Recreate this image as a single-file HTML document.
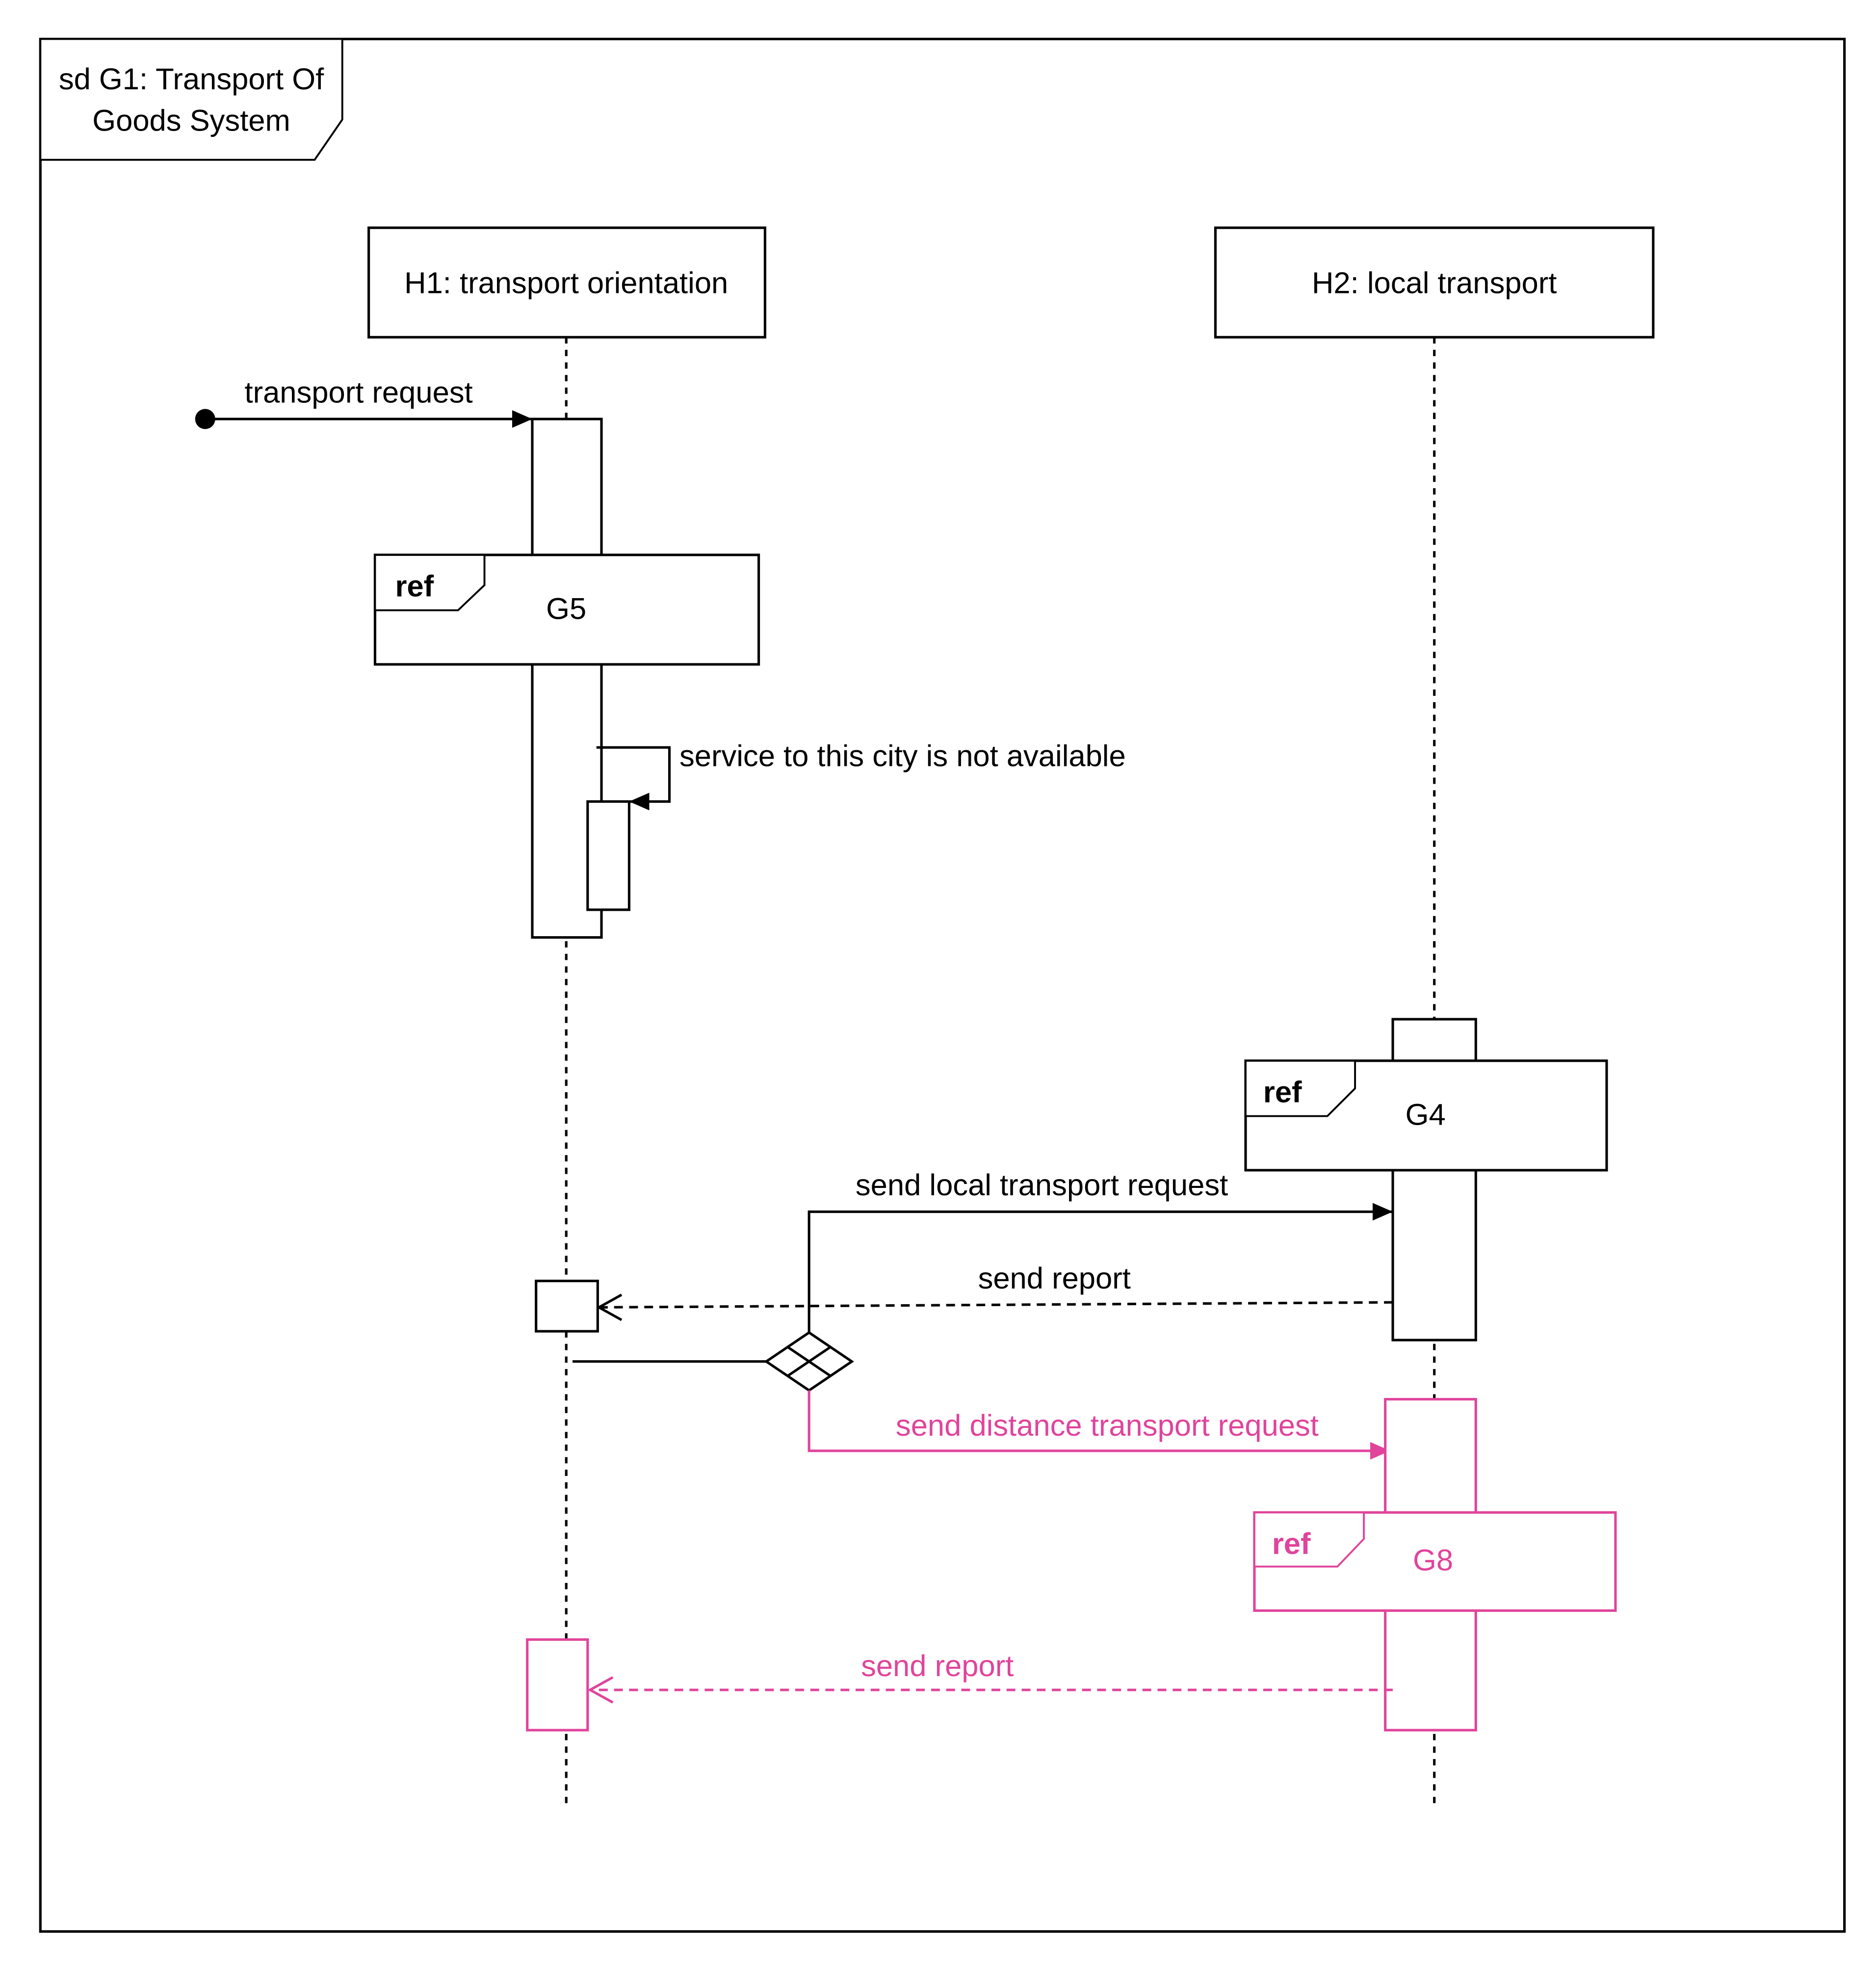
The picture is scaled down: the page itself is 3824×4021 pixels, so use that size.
<!DOCTYPE html>
<html><head><meta charset="utf-8"><style>
html,body{margin:0;padding:0;background:#fff;}
svg{display:block;}
text{font-family:"Liberation Sans",sans-serif;}
</style></head><body>
<svg width="3824" height="4021" viewBox="0 0 1491 1568" xmlns="http://www.w3.org/2000/svg">
<defs>
<marker id="fa" viewBox="0 0 16 14" refX="16" refY="7" markerWidth="16" markerHeight="14" orient="auto" markerUnits="userSpaceOnUse"><path d="M0,0 L16,7 L0,14 z" fill="#000"/></marker>
<marker id="fp" viewBox="0 0 16 14" refX="16" refY="7" markerWidth="16" markerHeight="14" orient="auto" markerUnits="userSpaceOnUse"><path d="M0,0 L16,7 L0,14 z" fill="#e0449b"/></marker>
</defs>
<rect width="1491" height="1568" fill="#fff"/>
<rect x="32" y="31" width="1434" height="1504" fill="none" stroke="#000" stroke-width="2"/>
<polygon points="32,31 272,31 272,95 250,127 32,127" fill="#fff" stroke="#000" stroke-width="1.5"/>
<text x="152" y="71" font-size="24" text-anchor="middle">sd G1: Transport Of</text>
<text x="152" y="104" font-size="24" text-anchor="middle">Goods System</text>

<line x1="450" y1="268" x2="450" y2="1435" stroke="#000" stroke-width="2" stroke-dasharray="5,5"/>
<line x1="1140" y1="268" x2="1140" y2="1435" stroke="#000" stroke-width="2" stroke-dasharray="5,5"/>

<rect x="293" y="181" width="315" height="87" fill="#fff" stroke="#000" stroke-width="2"/>
<text x="450" y="233" font-size="24" text-anchor="middle">H1: transport orientation</text>
<rect x="966" y="181" width="348" height="87" fill="#fff" stroke="#000" stroke-width="2"/>
<text x="1140" y="233" font-size="24" text-anchor="middle">H2: local transport</text>

<circle cx="163" cy="333" r="8" fill="#000"/>
<line x1="163" y1="333" x2="423" y2="333" stroke="#000" stroke-width="2" marker-end="url(#fa)"/>
<text x="285" y="320" font-size="24" text-anchor="middle">transport request</text>

<rect x="423" y="333" width="55" height="412" fill="#fff" stroke="#000" stroke-width="2"/>
<rect x="298" y="441" width="305" height="87" fill="#fff" stroke="#000" stroke-width="2"/>
<polygon points="298,441 385,441 385,465 364,485 298,485" fill="#fff" stroke="#000" stroke-width="1.5"/>
<text x="314" y="474" font-size="24" font-weight="bold">ref</text>
<text x="450" y="492" font-size="24" text-anchor="middle">G5</text>

<rect x="467" y="637" width="33" height="86" fill="#fff" stroke="#000" stroke-width="2"/>
<polyline points="474,594 532,594 532,637 500,637" fill="none" stroke="#000" stroke-width="2" marker-end="url(#fa)"/>
<text x="540" y="609" font-size="24">service to this city is not available</text>

<rect x="1107" y="810" width="66" height="255" fill="#fff" stroke="#000" stroke-width="2"/>
<rect x="990" y="843" width="287" height="87" fill="#fff" stroke="#000" stroke-width="2"/>
<polygon points="990,843 1077,843 1077,865 1055,887 990,887" fill="#fff" stroke="#000" stroke-width="1.5"/>
<text x="1004" y="876" font-size="24" font-weight="bold">ref</text>
<text x="1133" y="894" font-size="24" text-anchor="middle">G4</text>

<polyline points="643,1060 643,963 1107,963" fill="none" stroke="#000" stroke-width="2" marker-end="url(#fa)"/>
<text x="828" y="950" font-size="24" text-anchor="middle">send local transport request</text>

<line x1="1107" y1="1035" x2="476" y2="1039" stroke="#000" stroke-width="2" stroke-dasharray="7,5"/>
<polyline points="494,1029 476,1039 494,1049" fill="none" stroke="#000" stroke-width="2"/>
<text x="838" y="1024" font-size="24" text-anchor="middle">send report</text>
<rect x="426" y="1018" width="49" height="40" fill="#fff" stroke="#000" stroke-width="2"/>

<line x1="455" y1="1082" x2="609" y2="1082" stroke="#000" stroke-width="2"/>
<polygon points="643,1059 677,1082 643,1105 609,1082" fill="#fff" stroke="#000" stroke-width="2"/>
<line x1="626" y1="1070.5" x2="660" y2="1093.5" stroke="#000" stroke-width="2"/>
<line x1="660" y1="1070.5" x2="626" y2="1093.5" stroke="#000" stroke-width="2"/>

<polyline points="643,1105 643,1153 1105,1153" fill="none" stroke="#e0449b" stroke-width="2" marker-end="url(#fp)"/>
<text x="880" y="1141" font-size="24" text-anchor="middle" fill="#e0449b">send distance transport request</text>

<rect x="1101" y="1112" width="72" height="263" fill="#fff" stroke="#e0449b" stroke-width="2"/>
<rect x="997" y="1202" width="287" height="78" fill="#fff" stroke="#e0449b" stroke-width="2"/>
<polygon points="997,1202 1084,1202 1084,1223 1063,1245 997,1245" fill="#fff" stroke="#e0449b" stroke-width="1.5"/>
<text x="1011" y="1235" font-size="24" font-weight="bold" fill="#e0449b">ref</text>
<text x="1139" y="1248" font-size="24" text-anchor="middle" fill="#e0449b">G8</text>

<rect x="419" y="1303" width="48" height="72" fill="#fff" stroke="#e0449b" stroke-width="2"/>
<line x1="1107" y1="1343" x2="469" y2="1343" stroke="#e0449b" stroke-width="2" stroke-dasharray="7,5"/>
<polyline points="487,1333 469,1343 487,1353" fill="none" stroke="#e0449b" stroke-width="2"/>
<text x="745" y="1332" font-size="24" text-anchor="middle" fill="#e0449b">send report</text>
</svg>
</body></html>
